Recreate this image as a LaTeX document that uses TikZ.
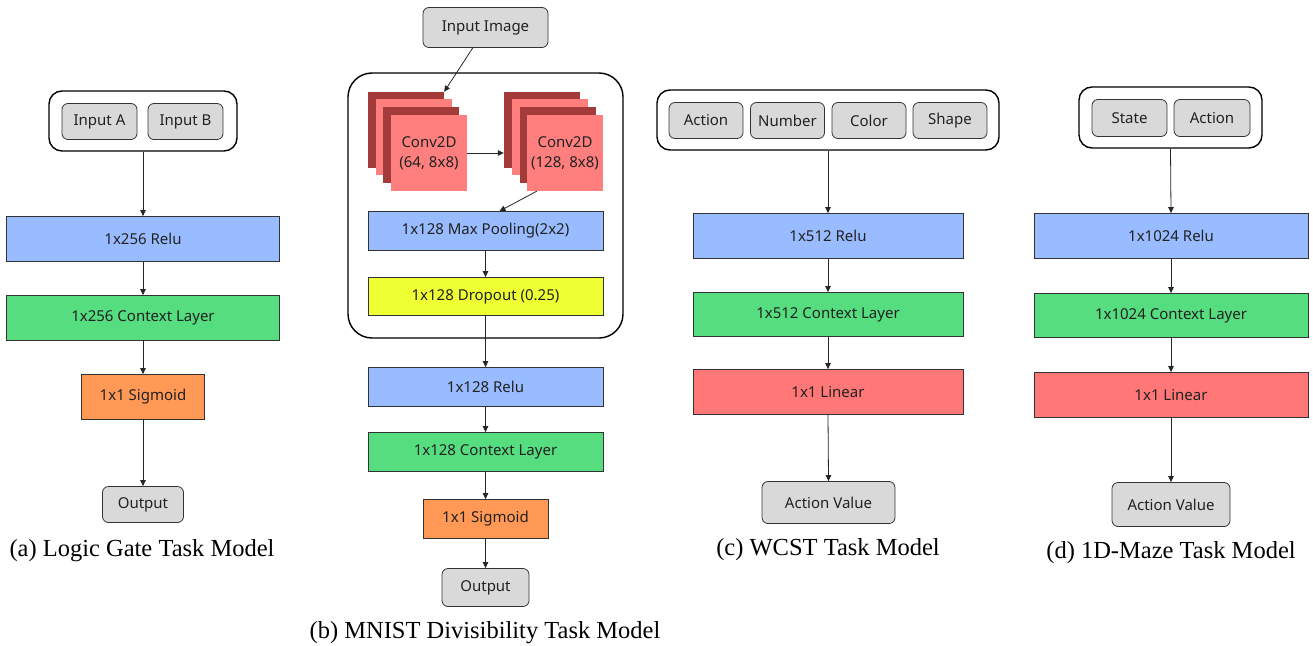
\documentclass[tikz,border=0pt]{standalone}
\usepackage{fontspec}
\setmainfont{Noto Sans}
\newfontfamily\capfont{Liberation Serif}
\usetikzlibrary{arrows.meta,calc}
\definecolor{cblue}{HTML}{99BBFF}
\definecolor{cgreen}{HTML}{55DD80}
\definecolor{corange}{HTML}{FF9955}
\definecolor{cred}{HTML}{FF7777}
\definecolor{cyellow}{HTML}{EEFF33}
\definecolor{cdark}{HTML}{A33B3B}
\definecolor{clight}{HTML}{FF7F7F}
\definecolor{cgray}{HTML}{D9D9D9}
\definecolor{ctext}{HTML}{222222}
\tikzset{
  lay/.style={draw=black!80, line width=0.8pt, text=ctext, font=\fontsize{15}{17}\selectfont, inner sep=0pt, minimum height=45pt, yshift=-0.5pt},
  grayin/.style={lay, fill=cgray, rounded corners=6pt},
  outer/.style={draw=black, line width=1.4pt, rounded corners=13pt, inner sep=0pt},
  sq/.style={minimum width=76pt, minimum height=76pt, inner sep=0pt, text=ctext, font=\fontsize{15}{20}\selectfont, align=center},
  conn/.style={draw=black!85, line width=0.8pt, -{Triangle[length=6pt,width=5.5pt]}},
  captext/.style={font=\capfont\fontsize{24.5}{27}\selectfont, text=black, inner sep=0pt}
}
\begin{document}
\begin{tikzpicture}[x=1pt,y=-1pt]
\useasboundingbox (0,0) rectangle (1313,645);
% ---------- (a)
\node[outer, minimum width=188pt, minimum height=60pt] (outA) at (143,121) {};
\node[grayin, minimum width=75pt, minimum height=36pt] (inA) at (99.5,121) {Input A};
\node[grayin, minimum width=75pt, minimum height=36pt] (inB) at (185.5,121) {Input B};
\node[lay, fill=cblue, minimum width=273pt] (reluA) at (143,238.5) {1x256 Relu};
\node[lay, fill=cgreen, minimum width=273pt] (ctxA) at (143,317.5) {1x256 Context Layer};
\node[lay, fill=corange, minimum width=123pt] (sigA) at (143,396.5) {1x1 Sigmoid};
\node[grayin, minimum width=81pt, minimum height=36pt] (oA) at (143,504) {Output};
\node[captext] (capA) at (142,551) {(a) Logic Gate Task Model};
\draw[conn] (outA.south) -- (reluA.north);
\draw[conn] (reluA.south) -- (ctxA.north);
\draw[conn] (ctxA.south) -- (sigA.north);
\draw[conn] (sigA.south) -- (oA.north);
% ---------- (b)
\node[grayin, minimum width=125pt, minimum height=40pt] (imgB) at (485.5,27) {Input Image};
\node[outer, rounded corners=24pt, minimum width=275pt, minimum height=265pt] (outB) at (485.5,205.5) {};
\node[sq, fill=cdark] (c1a) at (406,130) {};
\node[sq, fill=clight] (c1b) at (414,137) {};
\node[sq, fill=cdark] (c1c) at (421,145) {};
\node[sq, fill=clight] (c1d) at (429,153) {Conv2D\\(64, 8x8)};
\node[sq, fill=cdark] (c2a) at (542,130) {};
\node[sq, fill=clight] (c2b) at (550,137) {};
\node[sq, fill=cdark] (c2c) at (558,145) {};
\node[sq, fill=clight] (c2d) at (565,153) {Conv2D\\(128, 8x8)};
\node[lay, fill=cblue, minimum width=235pt, minimum height=39pt] (poolB) at (485.5,230.5) {1x128 Max Pooling(2x2)};
\node[lay, fill=cyellow, minimum width=235pt, minimum height=38pt] (dropB) at (485.5,296) {1x128 Dropout (0.25)};
\node[lay, fill=cblue, minimum width=235pt, minimum height=39pt] (reluB) at (485.5,386.5) {1x128 Relu};
\node[lay, fill=cgreen, minimum width=235pt, minimum height=39pt] (ctxB) at (485.5,451.5) {1x128 Context Layer};
\node[lay, fill=corange, minimum width=125pt, minimum height=39pt] (sigB) at (485.5,518.5) {1x1 Sigmoid};
\node[grayin, minimum width=87pt, minimum height=38pt] (oB) at (485.5,587) {Output};
\node[captext] (capB) at (485,633) {(b) MNIST Divisibility Task Model};
\draw[conn] (imgB.238) -- (c1a.north east);
\draw[conn] (c1d.east) -- (c1d.east -| c2a.west);
\draw[conn] ($(c2d.south west)!0.13!(c2d.south east)$) -- ($(poolB.north)+(14,0)$);
\draw[conn] (poolB.south) -- (dropB.north);
\draw[conn] (dropB.south) -- (reluB.north);
\draw[conn] (reluB.south) -- (ctxB.north);
\draw[conn] (ctxB.south) -- (sigB.north);
\draw[conn] (sigB.south) -- (oB.north);
% ---------- (c)
\node[outer, minimum width=342pt, minimum height=60pt] (outC) at (828,120) {};
\node[grayin, minimum width=74pt, minimum height=36pt] (actC) at (706,120) {Action};
\node[grayin, minimum width=74pt, minimum height=36pt] (numC) at (787.5,120) {Number};
\node[grayin, minimum width=74pt, minimum height=36pt] (colC) at (869,120) {Color};
\node[grayin, minimum width=74pt, minimum height=36pt] (shpC) at (950,120) {Shape};
\node[lay, fill=cblue, minimum width=270pt] (reluC) at (828,235.5) {1x512 Relu};
\node[lay, fill=cgreen, minimum width=270pt, minimum height=44pt] (ctxC) at (828,314) {1x512 Context Layer};
\node[lay, fill=cred, minimum width=270pt] (linC) at (828,391.5) {1x1 Linear};
\node[grayin, minimum width=133pt, minimum height=42pt] (avC) at (828.5,502) {Action Value};
\node[captext] (capC) at (828,550) {(c) WCST Task Model};
\draw[conn] (outC.south) -- (reluC.north);
\draw[conn] (reluC.south) -- (ctxC.north);
\draw[conn] (ctxC.south) -- (linC.north);
\draw[conn] (linC.south) -- (avC.north);
% ---------- (d)
\node[outer, minimum width=183pt, minimum height=61pt] (outD) at (1170.5,117.5) {};
\node[grayin, minimum width=75pt, minimum height=37pt] (stD) at (1129.5,117.5) {State};
\node[grayin, minimum width=76pt, minimum height=37pt] (acD) at (1212,117.5) {Action};
\node[lay, fill=cblue, minimum width=274pt] (reluD) at (1171,235.5) {1x1024 Relu};
\node[lay, fill=cgreen, minimum width=274pt, minimum height=44pt] (ctxD) at (1171,315) {1x1024 Context Layer};
\node[lay, fill=cred, minimum width=274pt] (linD) at (1171,394.5) {1x1 Linear};
\node[grayin, minimum width=118pt, minimum height=44pt] (avD) at (1171,504) {Action Value};
\node[captext] (capD) at (1171,553) {(d) 1D-Maze Task Model};
\draw[conn] (outD.south) -- (reluD.north);
\draw[conn] (reluD.south) -- (ctxD.north);
\draw[conn] (ctxD.south) -- (linD.north);
\draw[conn] (linD.south) -- (avD.north);
\end{tikzpicture}
\end{document}
